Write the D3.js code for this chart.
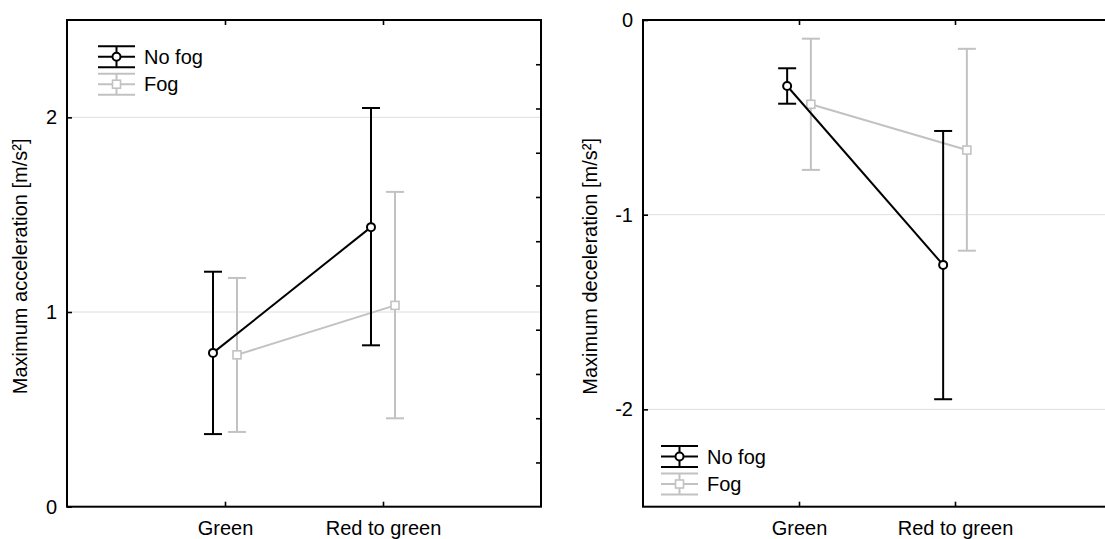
<!DOCTYPE html>
<html>
<head>
<meta charset="utf-8">
<script src="https://cdn.jsdelivr.net/npm/d3@7"></script>
<style>
  body { margin: 0; background: #fff; }
  svg { display: block; font-family: 'Liberation Sans', Arial, sans-serif; }
</style>
</head>
<body>
<script>
// categories on the x axis
const categories = ['Green', 'Red to green'];
const seriesNames = ['No fog', 'Fog'];

// left panel: maximum acceleration [m/s²]
const accelNoFogMean = [0.79, 1.436];
const accelNoFogLow = [0.373, 0.829];
const accelNoFogHigh = [1.207, 2.048];
const accelFogMean = [0.78, 1.034];
const accelFogLow = [0.384, 0.454];
const accelFogHigh = [1.175, 1.617];

// right panel: maximum deceleration [m/s²]
const decelNoFogMean = [-0.339, -1.258];
const decelNoFogLow = [-0.43, -1.948];
const decelNoFogHigh = [-0.248, -0.57];
const decelFogMean = [-0.433, -0.668];
const decelFogLow = [-0.77, -1.185];
const decelFogHigh = [-0.096, -0.148];

const accelTicks = [0, 1, 2];
const decelTicks = [0, -1, -2];

const width = 1105;
const height = 539;
const plotTop = 20;
const plotBottom = 506.7;
const fontSize = 20;
const black = '#000';
const grey = '#c2c2c2';
const offset = 0.076;

const svg = d3.select('body')
  .append('svg')
  .attr('width', width)
  .attr('height', height);

function toSeries(mean, low, high, k) {
  return mean.map((m, i) => ({ cat: i + 1 + (k === 0 ? -offset : offset), mean: m, low: low[i], high: high[i] }));
}

const panels = [
  {
    left: 67, right: 541, yDomain: [0, 2.5], ticks: accelTicks, label: 'Maximum acceleration [m/s²]', labelX: 27,
    rightTicks: true, legend: { x: 98, y: 56.7 },
    series: [
      toSeries(accelNoFogMean, accelNoFogLow, accelNoFogHigh, 0),
      toSeries(accelFogMean, accelFogLow, accelFogHigh, 1)
    ]
  },
  {
    left: 643, right: 1111, yDomain: [-2.5, 0], ticks: decelTicks, label: 'Maximum deceleration [m/s²]', labelX: 597,
    rightTicks: false, legend: { x: 661, y: 456.5 },
    series: [
      toSeries(decelNoFogMean, decelNoFogLow, decelNoFogHigh, 0),
      toSeries(decelFogMean, decelFogLow, decelFogHigh, 1)
    ]
  }
];

function drawPanel(p) {
  const x = d3.scaleLinear().domain([0, 3]).range([p.left, p.right]);
  const y = d3.scaleLinear().domain(p.yDomain).range([plotBottom, plotTop]);
  const g = svg.append('g');

  // light grid lines at labelled values
  g.append('g')
    .selectAll('line')
    .data(p.ticks.filter(t => t !== p.yDomain[0] && t !== p.yDomain[1]))
    .join('line')
    .attr('x1', p.left)
    .attr('x2', p.right)
    .attr('y1', d => y(d))
    .attr('y2', d => y(d))
    .attr('stroke', '#dedede')
    .attr('stroke-width', 1);

  const styleAxis = a => a
    .call(a => a.select('.domain').remove())
    .call(a => a.selectAll('.tick line').attr('stroke', black).attr('stroke-width', 1.6))
    .call(a => a.selectAll('text').attr('fill', black).style('font-size', fontSize + 'px'))
    .attr('font-family', null);

  g.append('g')
    .attr('transform', `translate(${p.left},0)`)
    .call(d3.axisLeft(y).tickValues(p.ticks).tickFormat(d => String(d)).tickSize(-5).tickPadding(10))
    .call(styleAxis);

  g.append('g')
    .attr('transform', `translate(0,${plotBottom})`)
    .call(d3.axisBottom(x).tickValues([1, 2]).tickFormat(d => categories[d - 1]).tickSize(-5).tickPadding(14))
    .call(styleAxis);

  g.append('g')
    .attr('transform', `translate(0,${plotTop})`)
    .call(d3.axisTop(x).tickValues([1, 2]).tickFormat('').tickSize(-5))
    .call(styleAxis);

  if (p.rightTicks) {
    const y2 = d3.scaleLinear().domain([0, 11]).range([plotBottom, plotTop]);
    g.append('g')
      .attr('transform', `translate(${p.right},0)`)
      .call(d3.axisRight(y2).tickValues(d3.range(1, 11)).tickFormat('').tickSize(-5))
      .call(styleAxis);
  }

  // frame
  g.append('rect')
    .attr('x', p.left)
    .attr('y', plotTop)
    .attr('width', p.right - p.left)
    .attr('height', plotBottom - plotTop)
    .attr('fill', 'none')
    .attr('stroke', black)
    .attr('stroke-width', 2);

  // y label
  g.append('text')
    .attr('transform', `translate(${p.labelX},${(plotTop + plotBottom) / 2 + 3}) rotate(-90)`)
    .attr('text-anchor', 'middle')
    .style('font-size', fontSize + 'px')
    .text(p.label);

  // series, fog first so no fog sits on top
  const line = d3.line().x(d => x(d.cat)).y(d => y(d.mean));
  [1, 0].forEach(k => {
    const data = p.series[k];
    const color = k === 0 ? black : grey;
    const s = g.append('g').attr('stroke', color).attr('stroke-width', 2).attr('fill', 'none');

    s.selectAll('line.bar')
      .data(data)
      .join('line')
      .attr('x1', d => x(d.cat))
      .attr('x2', d => x(d.cat))
      .attr('y1', d => y(d.low))
      .attr('y2', d => y(d.high));

    s.selectAll('path.cap')
      .data(data.flatMap(d => [{ cat: d.cat, v: d.low }, { cat: d.cat, v: d.high }]))
      .join('path')
      .attr('d', d => `M${x(d.cat) - 9},${y(d.v)}H${x(d.cat) + 9}`);

    s.append('path').attr('d', line(data));

    if (k === 0) {
      s.selectAll('circle')
        .data(data)
        .join('circle')
        .attr('cx', d => x(d.cat))
        .attr('cy', d => y(d.mean))
        .attr('r', 4)
        .attr('fill', '#fff');
    } else {
      s.selectAll('rect')
        .data(data)
        .join('rect')
        .attr('x', d => x(d.cat) - 4)
        .attr('y', d => y(d.mean) - 4)
        .attr('width', 8)
        .attr('height', 8)
        .attr('stroke-width', 1.6)
        .attr('fill', '#fff');
    }
  });

  // legend
  const lg = g.append('g').attr('transform', `translate(${p.legend.x},${p.legend.y})`);
  seriesNames.forEach((name, k) => {
    const color = k === 0 ? black : grey;
    const row = lg.append('g').attr('transform', `translate(0,${k * 27.5})`);
    const sym = row.append('g').attr('stroke', color).attr('stroke-width', 2).attr('fill', 'none');
    [-10.5, 0, 10.5].forEach(dy => sym.append('line').attr('x1', 0).attr('x2', 37).attr('y1', dy).attr('y2', dy));
    sym.append('line').attr('x1', 18.5).attr('x2', 18.5).attr('y1', -10.5).attr('y2', 10.5);
    if (k === 0) {
      sym.append('circle').attr('cx', 18.5).attr('cy', 0).attr('r', 4).attr('fill', '#fff');
    } else {
      sym.append('rect').attr('x', 14.5).attr('y', -4).attr('width', 8).attr('height', 8).attr('stroke-width', 1.6).attr('fill', '#fff');
    }
    row.append('text')
      .attr('x', 46)
      .attr('dy', '0.35em')
      .style('font-size', fontSize + 'px')
      .text(name);
  });
}

panels.forEach(drawPanel);
</script>
</body>
</html>
